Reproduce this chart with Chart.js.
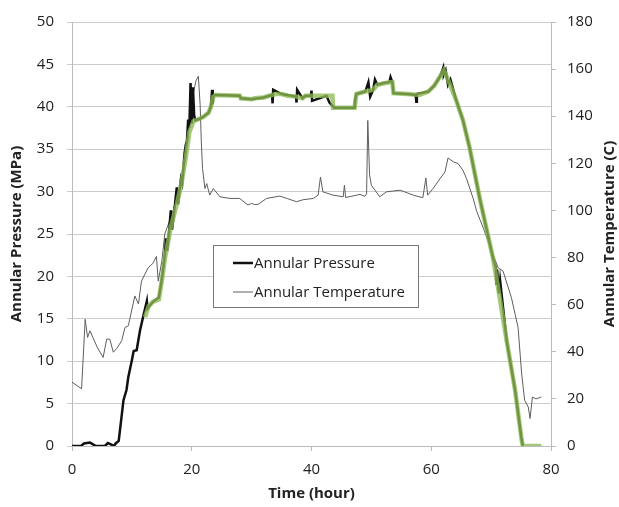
<!DOCTYPE html>
<html><head><meta charset="utf-8">
<script src="https://cdn.jsdelivr.net/npm/chart.js@4/dist/chart.umd.min.js"></script>
<style>html,body{margin:0;padding:0;background:#fff;}</style>
</head><body>
<canvas id="c" width="619" height="507"></canvas>
<script>
const xTicks = [0, 20, 40, 60, 80];
const pressureTicks = [0, 5, 10, 15, 20, 25, 30, 35, 40, 45, 50];
const temperatureTicks = [0, 20, 40, 60, 80, 100, 120, 140, 160, 180];

const pressureHours = [0, 1.5, 2, 3, 3.5, 4, 5.5, 6, 6.5, 7, 7.3, 7.8, 8.2, 8.6, 9.1, 9.4, 10, 10.3, 10.8, 11.35, 11.9, 12.5, 12.6, 13.5, 14.5, 15, 15.5, 15.7, 15.9, 16.3, 16.5, 16.7, 17.2, 17.5, 17.7, 18.2, 18.4, 18.8, 19, 19.2, 19.4, 19.6, 19.8, 20, 20.2, 20.4, 20.6, 21, 21.9, 22.8, 23.2, 23.4, 23.5, 23.6, 24, 28, 28.2, 30, 32, 33.4, 33.5, 33.6, 35, 37.4, 37.5, 37.6, 38.5, 39, 39.9, 40, 40.1, 42.5, 43, 43.8, 47.2, 47.3, 47.5, 49, 49.5, 49.8, 50.3, 50.6, 51, 52, 53, 53.2, 53.5, 53.7, 56, 57.4, 57.5, 57.6, 59.5, 60.5, 61.5, 62, 62.1, 62.4, 62.8, 63.2, 64.2, 65.3, 66.4, 68.1, 70.3, 70.8, 70.9, 71.0, 71.3, 71.5, 72.6, 74, 75.1, 75.3];
const pressureValues = [0, 0, 0.3, 0.4, 0.2, 0, 0, 0.35, 0.2, 0, 0.3, 0.6, 3, 5.4, 6.6, 8.1, 10.1, 11.2, 11.3, 13.6, 15.3, 17.1, 16.2, 17.0, 17.5, 19.6, 22.5, 24.5, 23, 26, 27.8, 25.5, 28.5, 30.5, 28.5, 31.5, 31, 34.5, 35.5, 36, 38.5, 37.5, 42.8, 38, 42.3, 39, 38.4, 38.5, 38.8, 39.3, 40, 42, 40.3, 41.3, 41.4, 41.3, 41, 40.9, 41.1, 41.4, 40.4, 42, 41.5, 41.2, 40.5, 42, 41, 41.3, 41.3, 41.9, 40.7, 41.3, 40.5, 39.9, 39.9, 40.9, 41.5, 41.8, 42.9, 41.2, 42.0, 43.2, 42.6, 42.8, 42.9, 43.5, 42.9, 41.6, 41.5, 41.4, 40.6, 41.5, 41.8, 42.5, 43.6, 44.6, 43.8, 44.3, 42.6, 43.2, 40.7, 38.4, 35.2, 29.2, 22.2, 21, 19, 20.8, 18, 19.5, 12.4, 6.6, 0.7, 0];

const trendHours = [12.2, 12.8, 13.5, 14.5, 15, 15.5, 16.5, 17.5, 18.3, 19, 19.6, 20.3, 21, 21.9, 22.8, 23.2, 23.6, 24, 28, 28.2, 30, 30.5, 32, 33, 34, 35, 36, 37.5, 38.5, 39, 42.5, 43.5, 43.6, 47.2, 47.5, 49, 50.3, 51, 53, 53.5, 53.7, 56, 58, 59.5, 60.5, 61.5, 62.1, 62.8, 64.2, 65.3, 66.4, 68.1, 70.3, 71.2, 72.6, 74, 75.1, 75.3, 78.4];
const trendValues = [15.2, 16.5, 17.0, 17.3, 19.5, 22, 25.8, 28.5, 31, 34, 37, 38.3, 38.5, 38.8, 39.3, 40, 41.2, 41.4, 41.3, 41.0, 40.9, 41.0, 41.1, 41.3, 41.5, 41.5, 41.3, 41.2, 41.0, 41.3, 41.3, 41.3, 39.9, 39.9, 41.5, 41.8, 42.0, 42.6, 42.9, 42.9, 41.6, 41.5, 41.4, 41.8, 42.5, 43.6, 44.3, 43.2, 40.7, 38.4, 35.2, 29.2, 22.2, 18.5, 12.4, 6.6, 0.7, 0, 0];

const tempHours = [0, 1.6, 2.2, 2.6, 3, 3.5, 4.2, 5.2, 5.8, 6.3, 6.9, 7.5, 8.3, 8.85, 9.4, 10.5, 11.1, 11.6, 12.7, 13.5, 14.1, 14.4, 15, 15.5, 16.5, 17.5, 18.3, 19, 19.6, 20.3, 20.7, 21.1, 21.4, 21.6, 21.8, 22.2, 22.5, 23, 23.6, 24.7, 26.4, 28, 29.4, 30, 30.5, 31.1, 32.5, 34.7, 36, 37.5, 38.5, 40.3, 41.1, 41.5, 41.9, 43.6, 45.3, 45.5, 45.7, 48.1, 48.9, 49.2, 49.4, 49.7, 50, 51.4, 52.5, 54.8, 57, 58.6, 59.1, 59.4, 60.3, 62.3, 62.8, 63.7, 64.5, 65.3, 65.9, 67, 67.6, 68.7, 70.1, 71.2, 72, 73.4, 74.5, 75.1, 75.6, 76.2, 76.5, 76.9, 77.5, 78.4];
const tempValues = [27.1, 24.3, 53.8, 46.1, 48.9, 46, 42, 37.6, 45.4, 45.4, 39.8, 41.5, 44.7, 50.3, 51, 63.7, 60.3, 70, 75.6, 77.5, 80.5, 70, 78.4, 90, 97, 105, 113, 122, 135, 150, 155, 157, 145, 129, 117.8, 109.3, 111.4, 106.5, 109.3, 105.8, 105.1, 105.1, 102.3, 103, 102.5, 102.6, 105.1, 106.1, 105, 103.7, 104.5, 105.1, 106.5, 114.2, 107.9, 106.5, 105.8, 110.7, 105.5, 106.8, 106, 107, 138.2, 115, 110.7, 105.8, 107.9, 108.6, 106.5, 105.4, 113.8, 106.5, 109.3, 116.4, 122.3, 120.6, 119.9, 117, 113.5, 105.1, 99.5, 92.5, 82.6, 75.6, 74.2, 62.9, 50.3, 30.6, 19.4, 16.6, 11.7, 20.8, 20, 20.8];

const toPoints = (xs, ys) => xs.map((x, i) => ({x: x, y: ys[i]}));

const FONT = "'Open Sans', 'Noto Sans', sans-serif";
const TXT = '#222';

const legendPlugin = {
  id: 'insideLegend',
  afterDraw(chart) {
    const ctx = chart.ctx;
    ctx.save();
    const bx = 213.5, by = 245.5, bw = 205, bh = 62;
    ctx.fillStyle = '#fff';
    ctx.fillRect(bx, by, bw, bh);
    ctx.strokeStyle = '#777';
    ctx.lineWidth = 1;
    ctx.strokeRect(bx, by, bw, bh);
    const items = [
      {ds: chart.data.datasets[0], y: 263},
      {ds: chart.data.datasets[1], y: 292}
    ];
    ctx.font = "15px " + FONT;
    ctx.textBaseline = 'middle';
    ctx.textAlign = 'left';
    items.forEach(it => {
      ctx.strokeStyle = it.ds.borderColor;
      ctx.lineWidth = it.ds.borderWidth;
      ctx.beginPath();
      ctx.moveTo(233, it.y);
      ctx.lineTo(253, it.y);
      ctx.stroke();
      ctx.fillStyle = TXT;
      ctx.fillText(it.ds.label, 254, it.y + 1);
    });
    const ca = chart.chartArea;
    const cy = (ca.top + ca.bottom) / 2;
    ctx.font = "bold 15px " + FONT;
    ctx.textAlign = 'center';
    ctx.textBaseline = 'middle';
    ctx.fillStyle = TXT;
    // left axis title
    ctx.save();
    ctx.translate(17, cy);
    ctx.rotate(-Math.PI / 2);
    ctx.fillText('Annular Pressure (MPa)', 0, 0);
    ctx.restore();
    // right axis title, reading bottom to top
    ctx.save();
    ctx.translate(610, cy);
    ctx.rotate(-Math.PI / 2);
    ctx.fillText('Annular Temperature (C)', 0, 0);
    ctx.restore();
    ctx.restore();
  }
};

new Chart(document.getElementById('c'), {
  type: 'line',
  data: {
    datasets: [
      {label: 'Annular Pressure', data: toPoints(pressureHours, pressureValues), yAxisID: 'y',
       borderColor: '#111', borderWidth: 2.5, pointRadius: 0, tension: 0, order: 2},
      {label: 'Annular Temperature', data: toPoints(tempHours, tempValues), yAxisID: 'y2',
       borderColor: '#5e5e5e', borderWidth: 1, pointRadius: 0, tension: 0, order: 3},
      {label: 'Pressure trend', data: toPoints(trendHours, trendValues), yAxisID: 'y',
       borderColor: 'rgba(140,186,82,0.78)', borderWidth: 4.5, pointRadius: 0, tension: 0, order: 1}
    ]
  },
  options: {
    responsive: false,
    animation: false,
    devicePixelRatio: 1,
    layout: {padding: {top: 19, left: 0, right: 0, bottom: 0}},
    plugins: {legend: {display: false}, tooltip: {enabled: false}},
    scales: {
      x: {
        type: 'linear', min: 0, max: 80,
        afterBuildTicks: s => { s.ticks = xTicks.map(v => ({value: v})); },
        ticks: {color: TXT, font: {family: FONT, size: 15}, padding: 10, maxRotation: 0},
        grid: {drawOnChartArea: false, drawTicks: true, tickLength: 5, color: '#bbb'},
        border: {color: '#bbb'},
        title: {display: true, text: 'Time (hour)', color: TXT, font: {family: FONT, size: 15, weight: 'bold'}, padding: {top: 4, bottom: 4}},
        afterFit: s => { s.height = 61; }
      },
      y: {
        position: 'left', min: 0, max: 50,
        afterBuildTicks: s => { s.ticks = pressureTicks.map(v => ({value: v})); },
        ticks: {color: TXT, font: {family: FONT, size: 15}, padding: 13},
        grid: {color: '#cccccc', tickLength: 5, drawTicks: true},
        border: {color: '#bbb'},
        afterFit: s => { s.width = 72; }
      },
      y2: {
        position: 'right', min: 0, max: 180,
        afterBuildTicks: s => { s.ticks = temperatureTicks.map(v => ({value: v})); },
        ticks: {color: TXT, font: {family: FONT, size: 15}, padding: 11},
        grid: {drawOnChartArea: false, tickLength: 5, color: '#bbb'},
        border: {color: '#bbb'},
        afterFit: s => { s.width = 68; }
      }
    }
  },
  plugins: [legendPlugin]
});
</script>
</body></html>
